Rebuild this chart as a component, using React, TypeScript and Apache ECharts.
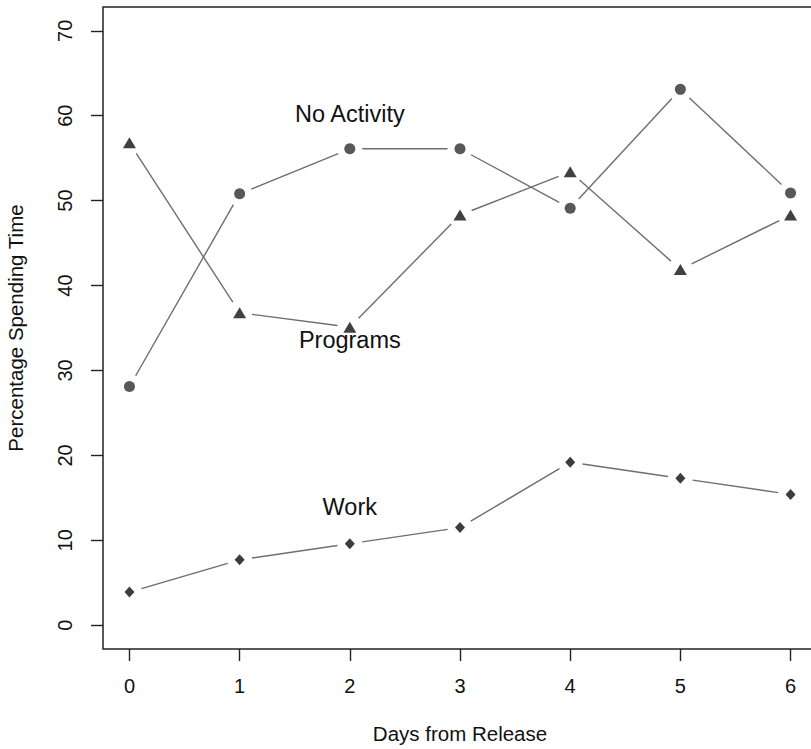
import React, { useEffect, useRef } from "react";
import * as echarts from "echarts";

const days = [0, 1, 2, 3, 4, 5, 6];
const noActivity = [28.1, 50.8, 56.1, 56.1, 49.1, 63.1, 50.9];
const programs = [56.8, 36.8, 35.1, 48.3, 53.4, 41.9, 48.3];
const work = [3.9, 7.7, 9.6, 11.5, 19.2, 17.3, 15.4];

const xTicks = [0, 1, 2, 3, 4, 5, 6];
const yTicks = [0, 10, 20, 30, 40, 50, 60, 70];

const annotations: [number, number, string][] = [
  [2, 60.2, "No Activity"],
  [2, 33.6, "Programs"],
  [2, 13.9, "Work"],
];

const FONT = "Liberation Sans, Arial, Helvetica, sans-serif";
const LINE_COLOR = "#6e6e6e";
const GAP = 12.5;

function gappedLine(name: string, ys: number[]) {
  const pts = days.map((d, i) => [d, ys[i]]);
  return {
    type: "custom",
    name,
    data: pts,
    silent: true,
    z: 2,
    renderItem: (params: any, api: any) => {
      const i = params.dataIndex;
      if (i >= pts.length - 1) return null;
      const pa = api.coord(pts[i]);
      const a = [pa[0], pa[1]];
      const pb = api.coord(pts[i + 1]);
      const b = [pb[0], pb[1]];
      const dx = b[0] - a[0];
      const dy = b[1] - a[1];
      const len = Math.sqrt(dx * dx + dy * dy);
      if (len <= 2 * GAP) return null;
      const ux = dx / len;
      const uy = dy / len;
      return {
        type: "line",
        shape: {
          x1: a[0] + ux * GAP,
          y1: a[1] + uy * GAP,
          x2: b[0] - ux * GAP,
          y2: b[1] - uy * GAP,
        },
        style: { stroke: LINE_COLOR, lineWidth: 1.4, fill: null },
      };
    },
  };
}

function points(name: string, ys: number[], symbol: string, size: any, color: string) {
  return {
    type: "scatter",
    name,
    data: days.map((d, i) => [d, ys[i]]),
    symbol,
    symbolSize: size,
    itemStyle: { color, opacity: 1 },
    z: 3,
    silent: true,
  };
}

export default function App() {
  const ref = useRef<HTMLDivElement>(null);
  useEffect(() => {
    if (!ref.current) return;
    const chart = echarts.init(ref.current, undefined, { renderer: "svg" });
    chart.setOption({
      animation: false,
      backgroundColor: "#ffffff",
      grid: {
        left: 103,
        top: 7,
        width: 714,
        height: 642,
        show: true,
        borderColor: "#222222",
        borderWidth: 1.5,
        backgroundColor: "transparent",
        containLabel: false,
        outerBoundsMode: "none",
      },
      xAxis: {
        type: "value",
        min: -0.24,
        max: 6.24,
        splitLine: { show: false },
        axisLine: { show: false, onZero: false },
        axisTick: {
          show: true,
          customValues: xTicks,
          length: 12,
          inside: false,
          lineStyle: { color: "#222222", width: 1.4 },
        },
        axisLabel: {
          customValues: xTicks,
          fontSize: 20,
          color: "#111111",
          fontFamily: FONT,
          margin: 27,
        },
        name: "Days from Release",
        nameLocation: "middle",
        nameGap: 74,
        nameTextStyle: { fontSize: 20.5, color: "#111111", fontFamily: FONT },
      },
      yAxis: {
        type: "value",
        min: -2.8,
        max: 72.8,
        splitLine: { show: false },
        axisLine: { show: false, onZero: false },
        axisTick: {
          show: true,
          customValues: yTicks,
          length: 12,
          inside: false,
          lineStyle: { color: "#222222", width: 1.4 },
        },
        axisLabel: {
          customValues: yTicks,
          rotate: 90,
          fontSize: 20,
          color: "#111111",
          fontFamily: FONT,
          margin: 28,
        },
        name: "Percentage Spending Time",
        nameLocation: "middle",
        nameGap: 77,
        nameTextStyle: { fontSize: 20.5, color: "#111111", fontFamily: FONT },
      },
      series: [
        gappedLine("No Activity line", noActivity),
        gappedLine("Programs line", programs),
        gappedLine("Work line", work),
        points("No Activity", noActivity, "circle", 11, "#585858"),
        points("Programs", programs, "triangle", [13, 11], "#404040"),
        points("Work", work, "diamond", [10, 11], "#3c3c3c"),
        {
          type: "scatter",
          name: "labels",
          data: annotations.map((a) => [a[0], a[1], a[2]]),
          symbolSize: 0,
          silent: true,
          z: 4,
          itemStyle: { color: "#111111", opacity: 1 },
          label: {
            show: true,
            position: "inside",
            formatter: (p: any) => p.value[2],
            fontSize: 23.5,
            color: "#111111",
            opacity: 1,
            textBorderWidth: 0,
            fontFamily: FONT,
          },
        },
      ],
    });
    return () => chart.dispose();
  }, []);
  return (
    <div
      ref={ref}
      style={{ position: "fixed", left: 0, top: 0, width: 811, height: 749, background: "#fff" }}
    />
  );
}
